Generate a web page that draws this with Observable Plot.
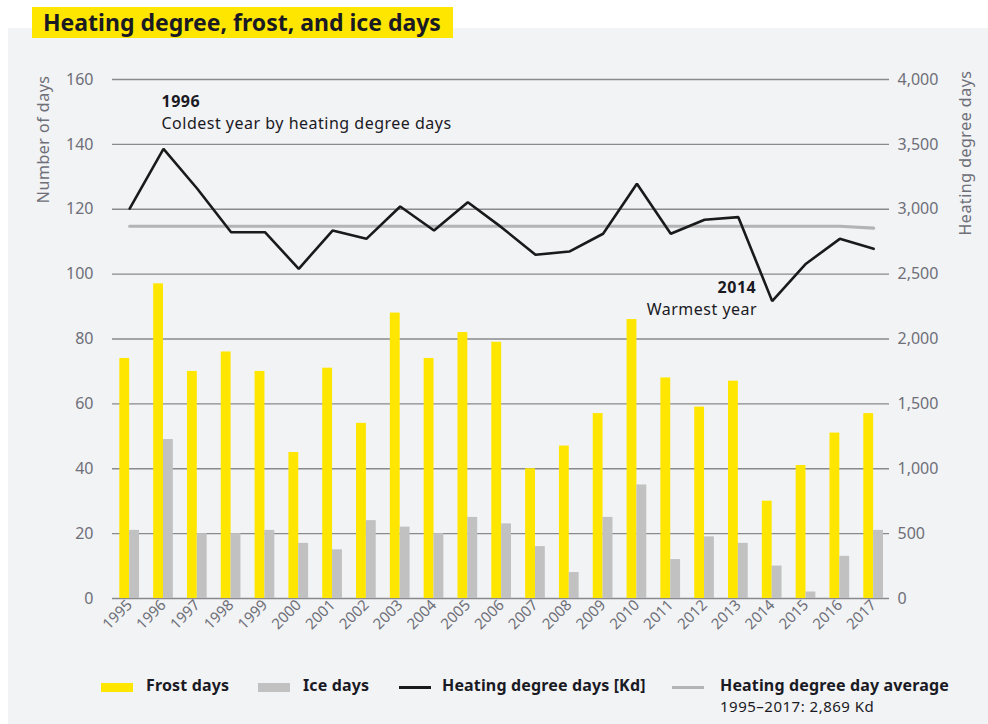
<!DOCTYPE html>
<html>
<head>
<meta charset="utf-8">
<script src="https://cdn.jsdelivr.net/npm/d3@7"></script>
<script src="https://cdn.jsdelivr.net/npm/@observablehq/plot@0.6"></script>
<style>
  html, body { margin: 0; padding: 0; background: #ffffff; width: 988px; height: 724px; overflow: hidden; font-family: "Noto Sans", sans-serif; }
  #panel { position: absolute; left: 8px; top: 28px; width: 980px; height: 696px; background: #f2f3f5; }
  #title { position: absolute; left: 32px; top: 7px; width: 421px; height: 31px; background: #ffe600; }
  #title span { position: absolute; left: 11px; top: 0px; line-height: 31px; font: 700 23px/31px "Noto Sans", sans-serif; color: #1a1a24; white-space: nowrap; }
  #chart { position: absolute; left: 0; top: 50px; }
  .lg { position: absolute; white-space: nowrap; color: #1a1a24; }
  .lgt { font: 700 16px/18px "Noto Sans", sans-serif; letter-spacing: 0.15px; }
  .lgs { font: 400 15px/16px "Noto Sans", sans-serif; letter-spacing: 0.5px; }
</style>
</head>
<body>
<div id="panel"></div>
<div id="title"><span>Heating degree, frost, and ice days</span></div>
<div id="chart"></div>
<div id="legend"></div>
<script>
const years = ["1995","1996","1997","1998","1999","2000","2001","2002","2003","2004","2005","2006","2007","2008","2009","2010","2011","2012","2013","2014","2015","2016","2017"];
const frostDays = [74, 97, 70, 76, 70, 45, 71, 54, 88, 74, 82, 79, 40, 47, 57, 86, 68, 59, 67, 30, 41, 51, 57];
const iceDays = [21, 49, 20, 20, 21, 17, 15, 24, 22, 20, 25, 23, 16, 8, 25, 35, 12, 19, 17, 10, 2, 13, 21];
const heatingDegreeDays = [3005, 3466, 3158, 2823, 2823, 2541, 2836, 2772, 3021, 2836, 3054, 2860, 2649, 2674, 2811, 3196, 2811, 2919, 2939, 2292, 2580, 2772, 2695];
const hddAverage = [2869, 2869, 2869, 2869, 2869, 2869, 2869, 2869, 2869, 2869, 2869, 2869, 2869, 2869, 2869, 2869, 2869, 2869, 2869, 2869, 2869, 2869, 2855];
const leftTicks = [0, 20, 40, 60, 80, 100, 120, 140, 160];
const kdPerDayUnit = 4000 / 160;
const annotations = [
  {year: "1996", bold: "1996", text: "Coldest year by heating degree days", side: "start"},
  {year: "2014", bold: "2014", text: "Warmest year", side: "end"}
];
const legendItems = [
  {label: "Frost days", kind: "bar", color: "#ffe600"},
  {label: "Ice days", kind: "bar", color: "#c0c1c0"},
  {label: "Heating degree days [Kd]", kind: "line", color: "#1a1a1a"},
  {label: "Heating degree day average", sub: "1995\u20132017: 2,869 Kd", kind: "line", color: "#b4b4b4"}
];

const rows = years.map((y, i) => ({year: y, frost: frostDays[i], ice: iceDays[i], hdd: heatingDegreeDays[i], avg: hddAverage[i]}));
const hddOf = Object.fromEntries(rows.map(r => [r.year, r.hdd]));
const annRows = annotations.map(a => ({...a, v: hddOf[a.year] / kdPerDayUnit}));

const axisColor = "#6e6f78";
const font = "'Noto Sans', sans-serif";
const plot = Plot.plot({
  width: 988,
  height: 600,
  marginTop: 29,
  marginBottom: 52,
  marginLeft: 112,
  marginRight: 99,
  style: {fontFamily: font, background: "transparent", overflow: "visible"},
  x: {type: "band", domain: years, range: [105.2, 897.1], padding: 0.4175, align: 0.5, round: false, axis: null},
  y: {domain: [0, 160], axis: null},
  marks: [
    Plot.ruleY(leftTicks, {stroke: "#8a8a8e", strokeWidth: 1.3}),
    Plot.barY(rows, {x: "year", y: "frost", fill: "#ffe600", insetRight: 9.85, insetLeft: 0}),
    Plot.barY(rows, {x: "year", y: "ice", fill: "#c0c1c0", insetLeft: 9.85, insetRight: 0}),
    Plot.lineY(rows, {x: "year", y: d => d.avg / kdPerDayUnit, stroke: "#b4b4b4", strokeWidth: 3.2}),
    Plot.lineY(rows, {x: "year", y: d => d.hdd / kdPerDayUnit, stroke: "#1a1a1a", strokeWidth: 2.6, strokeLinejoin: "miter"}),
    Plot.axisY({anchor: "left", ticks: leftTicks, tickSize: 0, tickPadding: 19, fontSize: 16, color: axisColor, label: null}),
    Plot.axisY({anchor: "right", ticks: leftTicks, tickSize: 0, tickPadding: 8, fontSize: 16, color: axisColor, label: null,
      tickFormat: d => d3.format(",")(d * kdPerDayUnit)}),
    Plot.axisX({anchor: "bottom", tickRotate: -45, tickSize: 0, tickPadding: 4, fontSize: 15, color: axisColor, label: null}),
    Plot.text(["Number of days"], {frameAnchor: "top-left", dx: -69, dy: -4, rotate: -90, textAnchor: "end", lineAnchor: "middle", fontSize: 16, fill: axisColor}),
    Plot.text(["Heating degree days"], {frameAnchor: "top-right", dx: 76, dy: -9, rotate: -90, textAnchor: "end", lineAnchor: "middle", fontSize: 16, fill: axisColor}),
    Plot.text(annRows.filter(a => a.side === "start"), {x: "year", y: "v", text: "bold", textAnchor: "start", dx: -2, dy: -47, fontSize: 16, fontWeight: 700, fill: "#1a1a24"}),
    Plot.text(annRows.filter(a => a.side === "start"), {x: "year", y: "v", text: "text", textAnchor: "start", dx: -2, dy: -25, fontSize: 16, fill: "#1a1a24"}),
    Plot.text(annRows.filter(a => a.side === "end"), {x: "year", y: "v", text: "bold", textAnchor: "end", dx: -16, dy: -13, fontSize: 16, fontWeight: 700, fill: "#1a1a24"}),
    Plot.text(annRows.filter(a => a.side === "end"), {x: "year", y: "v", text: "text", textAnchor: "end", dx: -15, dy: 9, fontSize: 16, fill: "#1a1a24"})
  ]
});
// widen the annotation lettering slightly, like the reference typeface
d3.select(plot).selectAll("g[aria-label='text'] text").attr("letter-spacing", "0.5px");
document.getElementById("chart").appendChild(plot);

// Legend (HTML below the SVG)
const legendPos = [
  {sx: 101, tx: 146},
  {sx: 258, tx: 303},
  {sx: 399, tx: 442},
  {sx: 672, tx: 720}
];
const lg = document.getElementById("legend");
legendItems.forEach((it, i) => {
  const p = legendPos[i];
  const sw = document.createElement("div");
  sw.style.position = "absolute";
  sw.style.left = p.sx + "px";
  sw.style.width = "32px";
  sw.style.background = it.color;
  if (it.kind === "bar") { sw.style.top = "683px"; sw.style.height = "9px"; }
  else { sw.style.top = "686px"; sw.style.height = "3px"; }
  lg.appendChild(sw);
  const t = document.createElement("div");
  t.className = "lg lgt";
  t.style.left = p.tx + "px";
  t.style.top = "676px";
  t.textContent = it.label;
  lg.appendChild(t);
  if (it.sub) {
    const s = document.createElement("div");
    s.className = "lg lgs";
    s.style.left = p.tx + "px";
    s.style.top = "698px";
    s.textContent = it.sub;
    lg.appendChild(s);
  }
});
</script>
</body>
</html>
